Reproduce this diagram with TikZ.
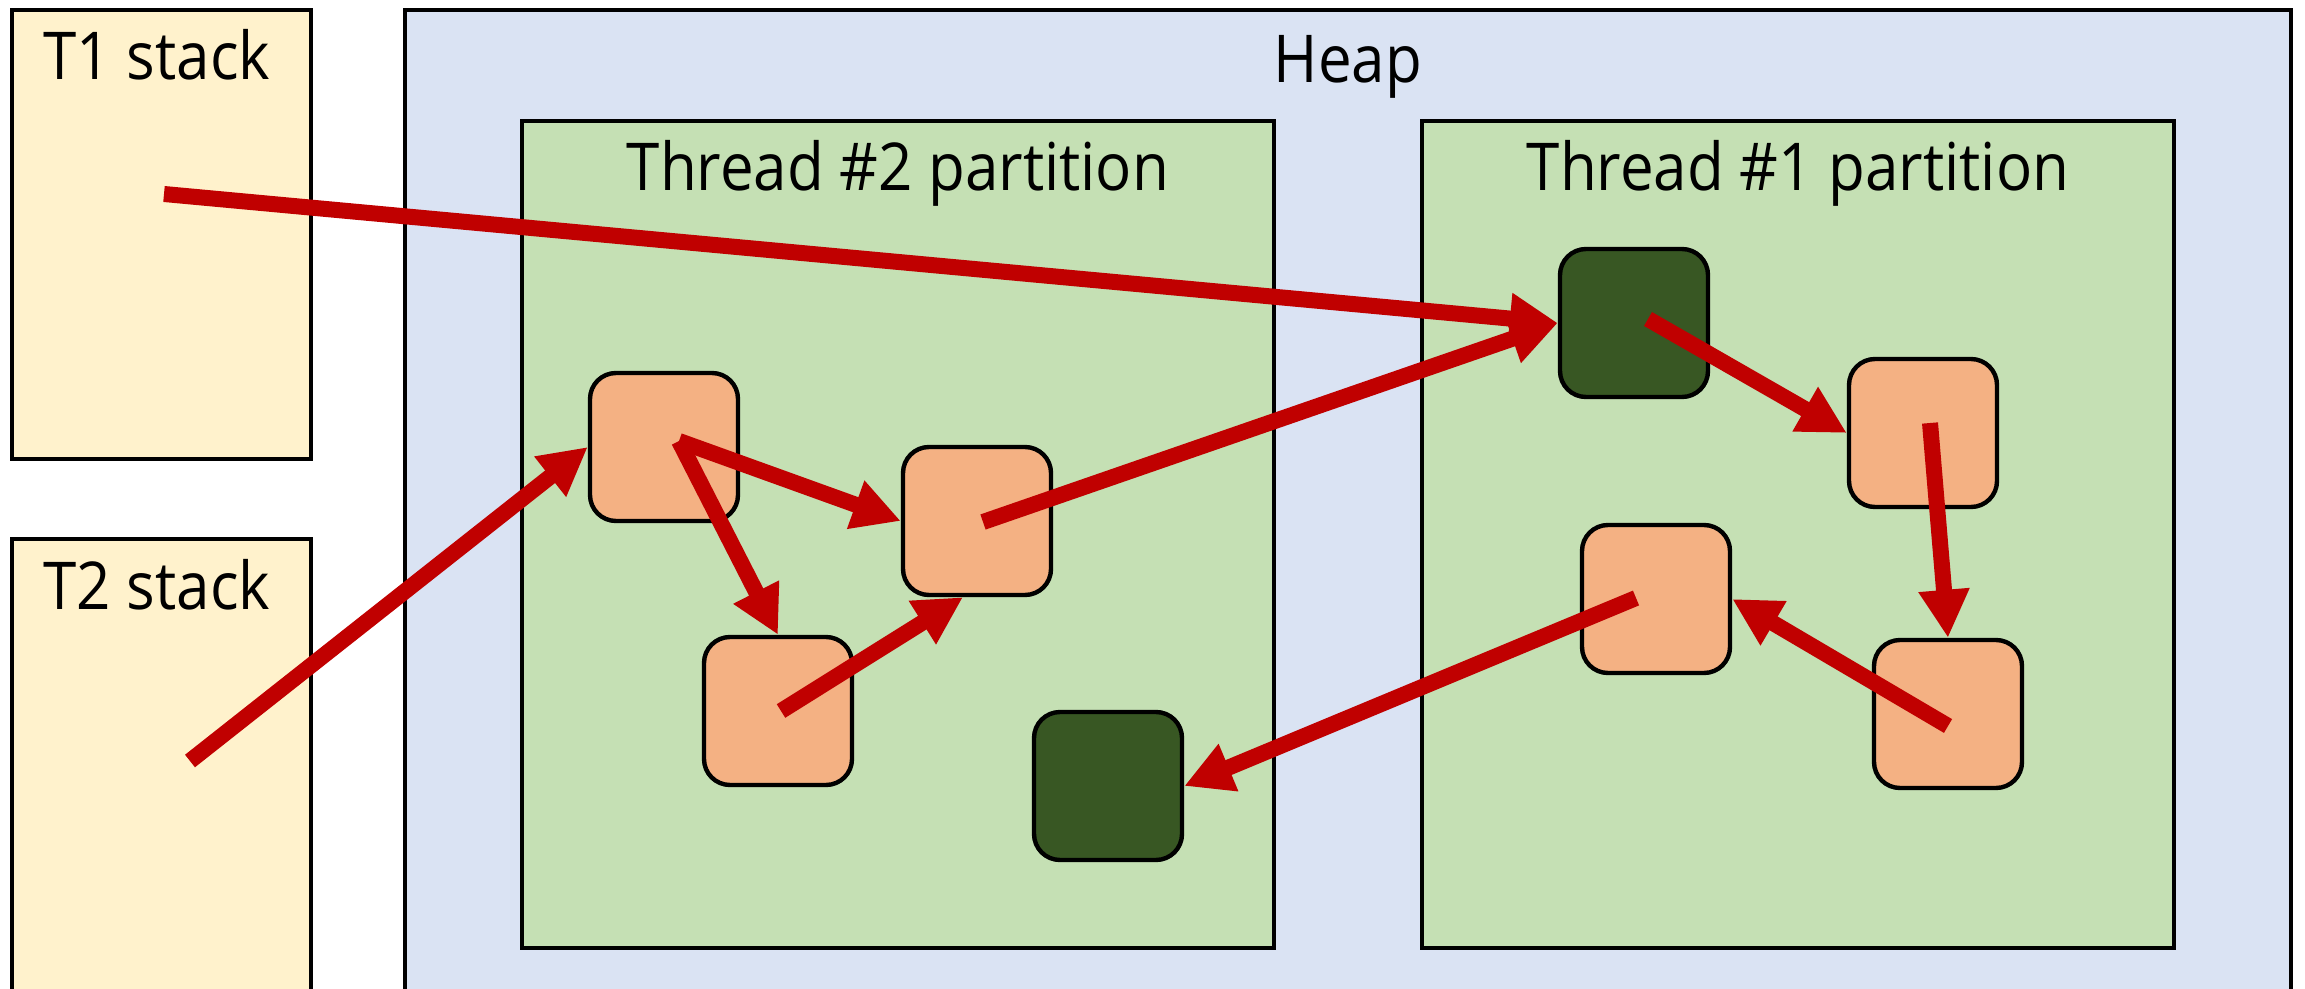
\documentclass[tikz,border=0pt]{standalone}
\usepackage{fontspec}
\setmainfont{Open Sans}[FakeStretch=0.91]
\usetikzlibrary{arrows.meta,calc}
\definecolor{stackfill}{HTML}{FFF2CC}
\definecolor{heapfill}{HTML}{DAE3F3}
\definecolor{partfill}{HTML}{C5E0B4}
\definecolor{objfill}{HTML}{F4B183}
\definecolor{darkobj}{HTML}{385723}
\definecolor{ptrred}{HTML}{C00000}
\begin{document}
\begin{tikzpicture}[x=0.5pt,y=-0.5pt,
  bigbox/.style={draw=black, line width=2.2pt, rectangle, inner sep=0pt},
  stackbox/.style={bigbox, fill=stackfill, minimum width=149.5pt},
  heapbox/.style={bigbox, fill=heapfill},
  partbox/.style={bigbox, fill=partfill, minimum width=376pt, minimum height=413.5pt},
  obj/.style={draw=black, line width=2.2pt, rectangle, rounded corners=13pt, fill=objfill, minimum width=74pt, minimum height=74pt, inner sep=0pt},
  objdark/.style={obj, fill=darkobj},
  ptr/.style={draw=ptrred, line width=8pt, -{Triangle[length=24pt,width=24pt]}},
  lbl/.style={font=\fontsize{33}{40}\selectfont, anchor=base, inner sep=0pt}
]
\clip (0,0) rectangle (2305,989);
% stacks and heap
\node[stackbox, minimum height=224.5pt] (t1) at (161.5,234.5) {};
\node[stackbox, minimum height=235.5pt] (t2) at (161.5,774.5) {};
\node[heapbox, minimum width=943pt, minimum height=500pt] (heap) at (1348,510) {};
\node[partbox] (p2) at (898,534.5) {};
\node[partbox] (p1) at (1798,534.5) {};
% labels
\node[lbl] (t1l) at (157,80) {T1 stack};
\node[lbl] (t2l) at (157,609) {T2 stack};
\node[lbl] (heapl) at (1348,83) {Heap};
\node[lbl] (p2l) at (898,191) {Thread \#2 partition};
\node[lbl] (p1l) at (1798,191) {Thread \#1 partition};
% objects
\node[obj] (A) at (664,447) {};
\node[obj] (B) at (977,521) {};
\node[obj] (C) at (778,711) {};
\node[objdark] (D) at (1108,786) {};
\node[objdark] (E) at (1634,323) {};
\node[obj] (F) at (1923,433) {};
\node[obj] (G) at (1656,599) {};
\node[obj] (H) at (1948,714) {};
% pointer start points
\coordinate (s1) at (164,194);
\coordinate (s2) at (190,761);
\coordinate (sA) at (679,441);
\coordinate (sC) at (781,711);
\coordinate (sB) at (983,522);
\coordinate (sE) at (1648,319);
\coordinate (sF) at (1930,423);
\coordinate (sH) at (1948,726);
\coordinate (sG) at (1636,598);
% pointers
\draw[ptr] (s1) -- (E.west);
\draw[ptr] (s2) -- (A.west);
\draw[ptr] (sA) -- (B.west);
\draw[ptr] (sA) -- (C.north);
\draw[ptr] (sC) -- ($(B.south)+(-14,0)$);
\draw[ptr] (sB) -- (E.west);
\draw[ptr] (sE) -- (F.west);
\draw[ptr] (sF) -- (H.north);
\draw[ptr] (sH) -- (G.east);
\draw[ptr] (sG) -- (D.east);
\end{tikzpicture}
\end{document}
